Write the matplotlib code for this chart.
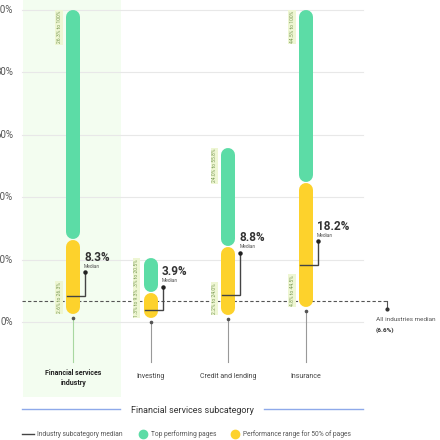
import matplotlib
matplotlib.use("Agg")
import matplotlib.pyplot as plt

plt.rcParams['font.family'] = ['Roboto', 'DejaVu Sans']

# ---- data ----
categories = ["Financial services\nindustry", "Investing", "Credit and lending", "Insurance"]
range_low = [2.6, 1.3, 2.2, 4.8]      # bottom of 50% range (yellow)
range_high = [26.3, 9.3, 24.0, 44.5]  # top of 50% range = start of top performers
top_high = [100.0, 20.5, 55.8, 100.0]  # top of top performing pages (green)
medians = [8.3, 3.9, 8.8, 18.2]
all_median = 6.6
y_ticks = [0, 20, 40, 60, 80, 100]

# ---- styles ----
GREEN = "#5cdca6"
YELLOW = "#fdd22c"
HILITE = "#f3fdf0"
GRID = "#e8e8e8"
DARK = "#333333"
label_rise_px = [24, 23, 42, 24]

W, H = 440, 440
fig = plt.figure(figsize=(W / 100, H / 100), dpi=100)
ax = fig.add_axes([0, 0, 1, 1])
ax.axis("off")

XS = 77.67
X0 = 73
YS = 3.12
Y0 = 322
ax.set_xlim(-X0 / XS, (W - X0) / XS)
ax.set_ylim((Y0 - H) / YS, Y0 / YS)

def X(px):
    return (px - X0) / XS

def Y(py):
    return (Y0 - py) / YS

dx = lambda p: p / XS
dy = lambda p: p / YS

# highlight column
ax.add_patch(plt.Rectangle((X(23), Y(397)), X(121) - X(23), Y(0) - Y(397),
                           facecolor=HILITE, edgecolor="none", zorder=0))

# gridlines and y labels (cropped at the left edge, as in the original)
for t in y_ticks:
    ax.plot([X(22), X(363)], [t, t], color=GRID, lw=0.8, zorder=1)
    ax.text(X(13), t, f"{t}%", ha="right", va="center", fontsize=7,
            color="#555555", clip_on=False)

# all industries median
ax.plot([X(22), X(387)], [all_median, all_median], color="#555555", lw=0.8,
        ls=(0, (3, 2)), zorder=2)
ax.plot([X(387), X(387)], [all_median, all_median - dy(8)], color="#555555", lw=0.8, zorder=2)
ax.plot([X(387)], [all_median - dy(8)], "o", color="#333333", ms=2, zorder=2)
ax.text(X(376), all_median - dy(18), "All industries median", fontsize=4.6,
        color="#555555", ha="left", va="center")
ax.text(X(376), all_median - dy(29), f"({all_median}%)", fontsize=4.6,
        color="#333333", ha="left", va="center", fontweight="bold")

half = dy(7)
bar_lw = 14 * 0.72
for i, cat in enumerate(categories):
    lo, mid, hi, med = range_low[i], range_high[i], top_high[i], medians[i]
    ax.plot([i, i], [lo + half, mid - half], color=YELLOW, lw=bar_lw,
            solid_capstyle="round", zorder=3)
    ax.plot([i, i], [mid + half + dy(1), hi - half], color=GREEN, lw=bar_lw,
            solid_capstyle="round", zorder=4)
    rise = dy(label_rise_px[i])
    xr = i + dx(12)
    ax.plot([i - dx(6), xr, xr], [med, med, med + rise], color="#444444",
            lw=1.0, zorder=5, solid_joinstyle="miter")
    ax.plot([xr], [med + rise], "o", color="#222222", ms=2.2, zorder=5)
    ax.text(i + dx(11), med + rise + dy(15), f"{med}%", fontsize=8.5,
            fontweight="bold", color=DARK, ha="left", va="center", zorder=6)
    ax.text(i + dx(11), med + rise + dy(6), "Median", fontsize=3.5,
            color="#555555", ha="left", va="center", zorder=6)
    lab_kw = dict(rotation=90, fontsize=3.6, color="#7a9a55", ha="center",
                  zorder=6, bbox=dict(boxstyle="square,pad=0.25",
                                      facecolor="#eef6d3", edgecolor="none"))
    ax.text(i - dx(14), hi - dy(1), f"{mid}% to {hi:g}%", va="top", **lab_kw)
    ax.text(i - dx(14), lo + dy(1), f"{lo}% to {mid}%", va="bottom", **lab_kw)
    pc = "#a8d8a0" if i == 0 else "#999999"
    ax.plot([i, i], [lo - dy(4), Y(362)], color=pc, lw=0.8, zorder=2)
    ax.plot([i], [lo - dy(4)], "o", color="#555555", ms=1.6, zorder=2)
    ax.text(i, Y(378) if i == 0 else Y(376), cat, fontsize=5,
            fontweight="bold" if i == 0 else "normal",
            color="#222222" if i == 0 else "#444444",
            ha="center", va="center", linespacing=1.35)

# subcategory axis title
ax.plot([X(22), X(120)], [Y(409), Y(409)], color="#8ea9ea", lw=1.0)
ax.plot([X(264), X(363)], [Y(409), Y(409)], color="#8ea9ea", lw=1.0)
ax.text(X(192), Y(410), "Financial services subcategory", fontsize=6.5,
        color="#333333", ha="center", va="center")

# legend
ly = Y(434)
ax.plot([X(22), X(34)], [ly, ly], color="#444444", lw=1.0)
ax.text(X(37), ly, "Industry subcategory median", fontsize=4.8, color="#555555",
        ha="left", va="center")
ax.plot([X(143)], [ly], "o", color=GREEN, ms=6)
ax.text(X(151), ly, "Top performing pages", fontsize=4.8, color="#555555",
        ha="left", va="center")
ax.plot([X(235)], [ly], "o", color=YELLOW, ms=6)
ax.text(X(243), ly, "Performance range for 50% of pages", fontsize=4.8,
        color="#555555", ha="left", va="center")

fig.savefig("out.png", dpi=100)
